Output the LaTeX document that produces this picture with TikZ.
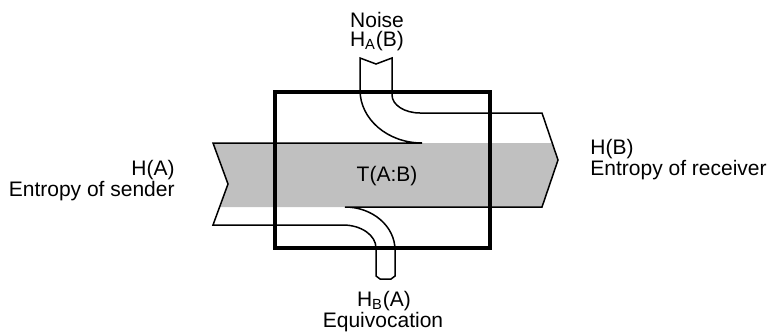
\documentclass[tikz,border=0pt]{standalone}
\usepackage{fontspec}
\setmainfont{Liberation Sans}
\usetikzlibrary{positioning}
\definecolor{ChannelGray}{RGB}{192,192,192}

\begin{document}
\begin{tikzpicture}[x=0.5pt,y=-0.5pt,every node/.style={font=\fontsize{10.5}{12}\selectfont,inner sep=0pt},band/.style={line width=0.75pt,line join=miter},box/.style={line width=2.2pt}]
\useasboundingbox (0,0) rectangle (774,332);
% channel body
\fill[ChannelGray] (213,143) -- (552,143) -- (558,160) -- (542,207) -- (219.6,207) -- (228,184) -- cycle;
\draw[band] (213,143) -- (422,143) .. controls (387.8,143) and (360,119.3) .. (360,90) -- (360,58) -- (376,64) -- (392,58) -- (392,95) .. controls (392,104.9) and (404.5,113) .. (420,113) -- (542,113) -- (558,160) -- (542,207) -- (345,207) .. controls (372.6,207) and (395,226.3) .. (395,250) -- (395,276) -- (391,279) -- (380,279) -- (376,276) -- (376,248) .. controls (376,235.3) and (361.2,225) .. (343,225) -- (213,225) -- (228,184) -- cycle;
\draw[box] (275,92) rectangle (490,248);
% labels
\node[anchor=base] (noise) at (377,27) {Noise};
\node[anchor=base] (hab) at (377,46) {H\textsubscript{A}(B)};
\node[anchor=base] (hba) at (384,306) {H\textsubscript{B}(A)};
\node[anchor=base] (equiv) at (383,327) {Equivocation};
\node[anchor=base east] (ha) at (175,175) {H(A)};
\node[anchor=base east] (sender) at (175,196) {Entropy of sender};
\node[anchor=base west] (hb) at (590,154) {H(B)};
\node[anchor=base west] (receiver) at (590,175) {Entropy of receiver};
\node[anchor=base] (tab) at (387,181) {T(A:B)};
\end{tikzpicture}
\end{document}
